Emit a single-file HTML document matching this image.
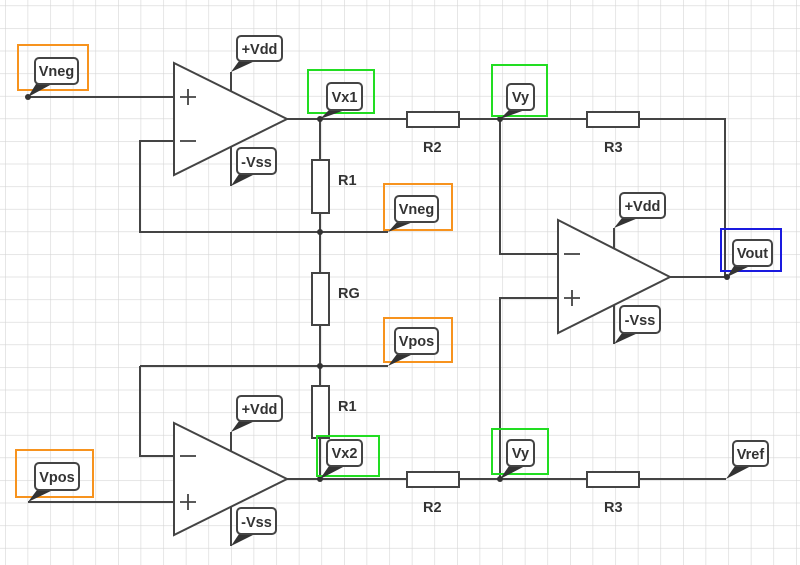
<!DOCTYPE html>
<html><head><meta charset="utf-8"><style>
html,body{margin:0;padding:0;background:#fff}
svg{display:block}
text{font-family:"Liberation Sans",sans-serif;font-weight:bold;fill:#333}
</style></head><body>
<svg width="800" height="565" viewBox="0 0 800 565" xmlns="http://www.w3.org/2000/svg">
<defs>
<pattern id="g" x="5" y="5.5" width="22.6" height="22.6" patternUnits="userSpaceOnUse">
<path d="M0 0H22.6M0 0V22.6" stroke="#d6d6d6" stroke-width="1.2" fill="none"/>
</pattern>
</defs>
<rect width="800" height="565" fill="#fff"/>
<rect width="800" height="565" fill="url(#g)"/>

<g stroke="#444" stroke-width="2" fill="none">
<path d="M28 97H174"/>
<path d="M174 141H140V232H388"/>
<path d="M287 119H725V277"/>
<path d="M670 277H726"/>
<path d="M320 119V479"/>
<path d="M140 366H388"/>
<path d="M140 366V456H174"/>
<path d="M28 502H174"/>
<path d="M287 479H726"/>
<path d="M500 119V254H558"/>
<path d="M500 479V298H558"/>
<path d="M231 91V72"/><path d="M231 147V186"/>
<path d="M231 451V432"/><path d="M231 507V546"/>
<path d="M614 248V228"/><path d="M614 305V344"/>
</g>

<g stroke="#444" stroke-width="2" fill="#fff">
<path d="M174 63L287 119L174 175Z"/>
<path d="M174 423L287 479L174 535Z"/>
<path d="M558 220L670 277L558 333Z"/>
</g>
<g stroke="#444" stroke-width="1.8">
<path d="M180 97H196M188 89V105"/><path d="M180 141H196"/>
<path d="M180 456H196"/><path d="M180 502H196M188 494V510"/>
<path d="M564 254H580"/><path d="M564 298H580M572 290V306"/>
</g>

<g stroke="#444" stroke-width="2" fill="#fff">
<rect x="407" y="112" width="52" height="15"/>
<rect x="587" y="112" width="52" height="15"/>
<rect x="407" y="472" width="52" height="15"/>
<rect x="587" y="472" width="52" height="15"/>
<rect x="312" y="160" width="17" height="53"/>
<rect x="312" y="273" width="17" height="52"/>
<rect x="312" y="386" width="17" height="52"/>
</g>
<g font-size="14.5">
<text x="423" y="152">R2</text><text x="604" y="152">R3</text>
<text x="423" y="512">R2</text><text x="604" y="512">R3</text>
<text x="338" y="185">R1</text><text x="338" y="298">RG</text><text x="338" y="411">R1</text>
</g>

<g fill="#333">
<circle cx="28" cy="97" r="3"/><circle cx="320" cy="119" r="3"/><circle cx="500" cy="119" r="3"/>
<circle cx="320" cy="232" r="3"/><circle cx="320" cy="366" r="3"/>
<circle cx="320" cy="479" r="3"/><circle cx="500" cy="479" r="3"/>
<circle cx="727" cy="277" r="3"/>
</g>

<g fill="none" stroke-width="2">
<rect x="18" y="45" width="70" height="45" stroke="#f7931e"/>
<rect x="384" y="184" width="68" height="46" stroke="#f7931e"/>
<rect x="384" y="318" width="68" height="44" stroke="#f7931e"/>
<rect x="16" y="450" width="77" height="47" stroke="#f7931e"/>
<rect x="308" y="70" width="66" height="43" stroke="#22dd22"/>
<rect x="492" y="65" width="55" height="51" stroke="#22dd22"/>
<rect x="317" y="436" width="62" height="40" stroke="#22dd22"/>
<rect x="492" y="429" width="56" height="45" stroke="#22dd22"/>
<rect x="721" y="229" width="60" height="42" stroke="#1a1adf"/>
</g>

<g stroke="#444" stroke-width="2">
<g fill="#333" stroke="none">
<polygon points="28,97 36,84 52,84"/>
<polygon points="231,72 239,61 255,61"/>
<polygon points="231,186 239,174 255,174"/>
<polygon points="231,432 239,421 255,421"/>
<polygon points="231,546 239,534 255,534"/>
<polygon points="320,119 329,110 345,110"/>
<polygon points="500,119 509,110 525,110"/>
<polygon points="388,232 397,222 413,222"/>
<polygon points="388,366 397,354 413,354"/>
<polygon points="28,502 37,490 53,490"/>
<polygon points="320,479 329,466 345,466"/>
<polygon points="500,479 509,466 525,466"/>
<polygon points="614,228 622,218 638,218"/>
<polygon points="614,344 622,333 638,333"/>
<polygon points="727,277 734,266 750,266"/>
<polygon points="726,479 735,466 751,466"/>
</g>
<g fill="#fff">
<rect x="35" y="58" width="43" height="26" rx="4"/>
<rect x="237" y="36" width="45" height="25" rx="4"/>
<rect x="237" y="148" width="39" height="26" rx="4"/>
<rect x="237" y="396" width="45" height="25" rx="4"/>
<rect x="237" y="508" width="39" height="26" rx="4"/>
<rect x="327" y="83" width="35" height="27" rx="4"/>
<rect x="507" y="84" width="27" height="26" rx="4"/>
<rect x="395" y="196" width="43" height="26" rx="4"/>
<rect x="395" y="328" width="43" height="26" rx="4"/>
<rect x="35" y="463" width="44" height="27" rx="4"/>
<rect x="327" y="440" width="35" height="26" rx="4"/>
<rect x="507" y="440" width="27" height="26" rx="4"/>
<rect x="620" y="193" width="45" height="25" rx="4"/>
<rect x="620" y="306" width="40" height="27" rx="4"/>
<rect x="733" y="240" width="39" height="26" rx="4"/>
<rect x="733" y="441" width="35" height="25" rx="4"/>
</g>
</g>
<g font-size="14.5" text-anchor="middle">
<text x="56.5" y="76">Vneg</text>
<text x="259.5" y="54">+Vdd</text>
<text x="256.5" y="167">-Vss</text>
<text x="259.5" y="414">+Vdd</text>
<text x="256.5" y="527">-Vss</text>
<text x="344.5" y="102">Vx1</text>
<text x="520.5" y="102">Vy</text>
<text x="416.5" y="214">Vneg</text>
<text x="416.5" y="346">Vpos</text>
<text x="57" y="482">Vpos</text>
<text x="344.5" y="458">Vx2</text>
<text x="520.5" y="458">Vy</text>
<text x="642.5" y="211">+Vdd</text>
<text x="640" y="325">-Vss</text>
<text x="752.5" y="258">Vout</text>
<text x="750.5" y="459">Vref</text>
</g>
</svg>
</body></html>
